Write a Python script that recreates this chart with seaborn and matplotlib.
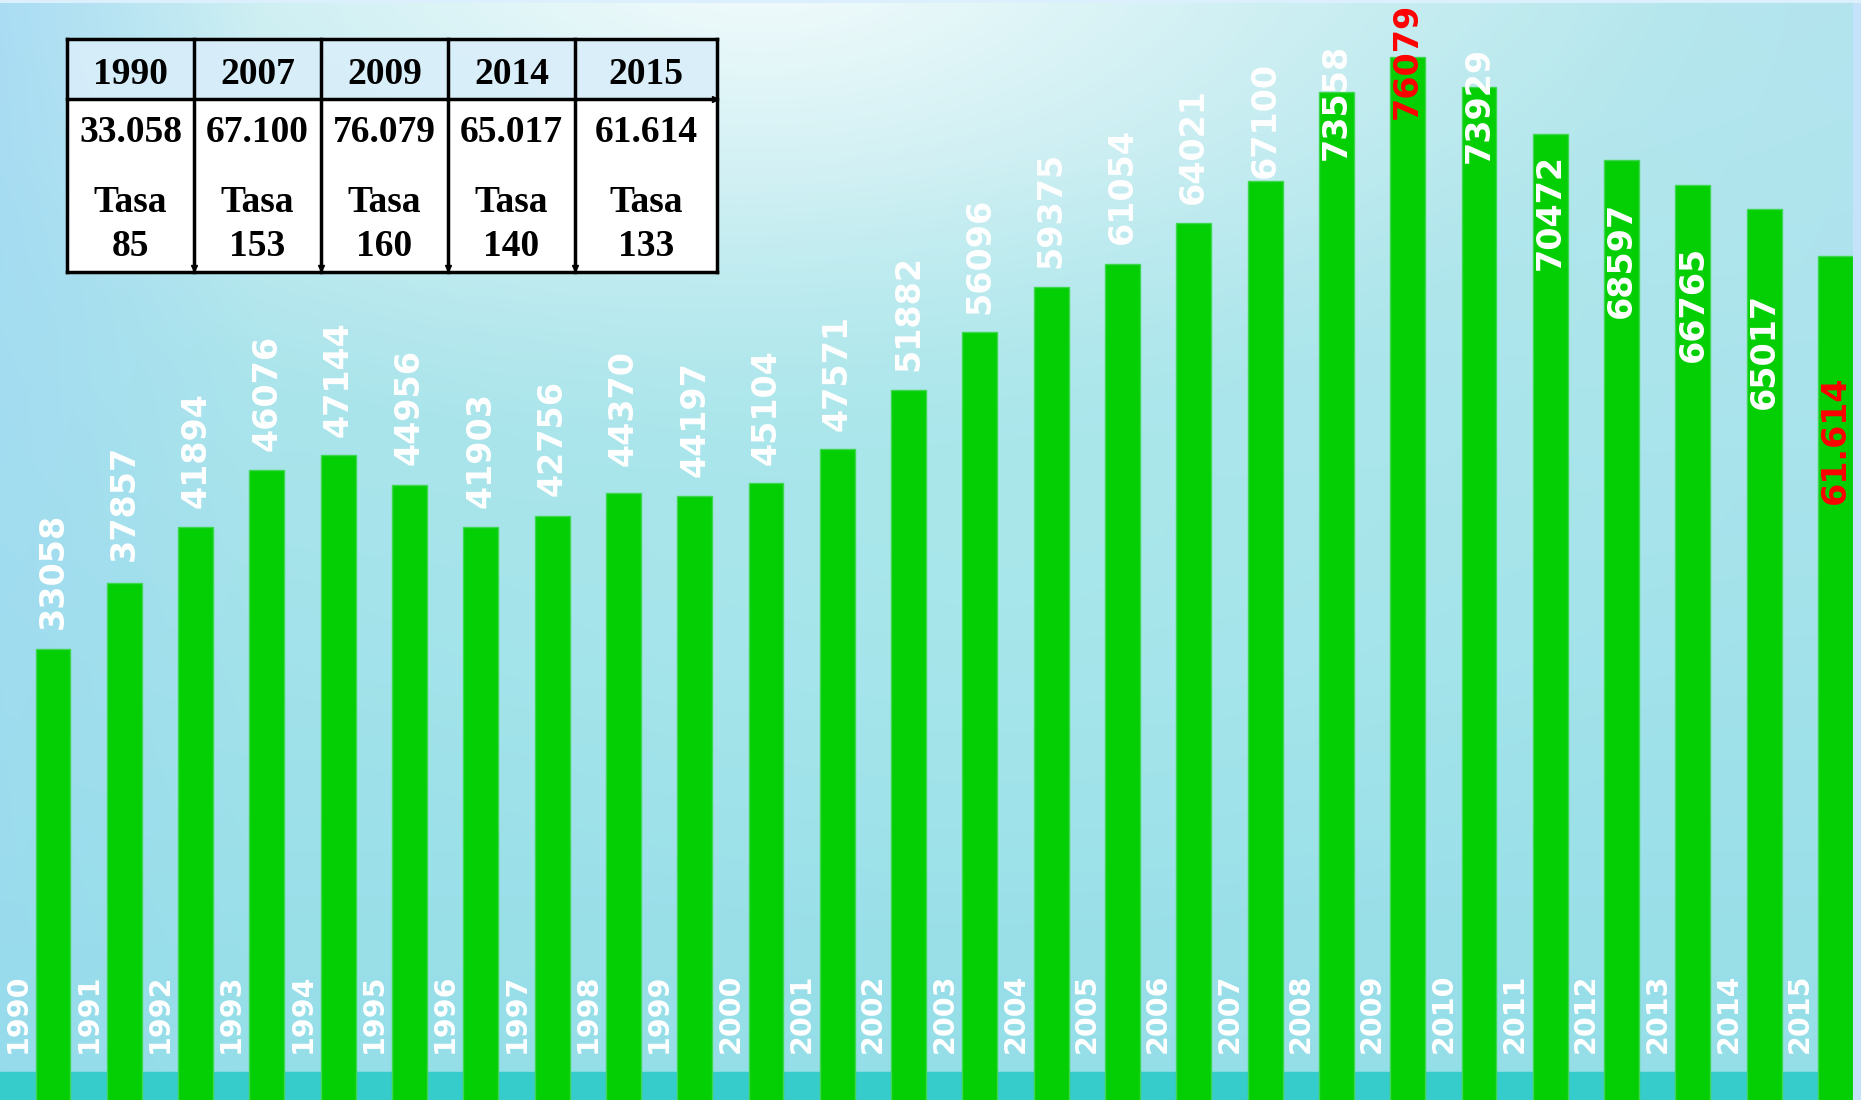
"""
Evolución anual 1990-2015: barras con etiquetas verticales y tabla resumen.
"""

import numpy as np
import seaborn as sns
import matplotlib.pyplot as plt

# datos
anios = [str(a) for a in range(1990, 2016)]
valores = [33058, 37857, 41894, 46076, 47144, 44956, 41903, 42756, 44370, 44197,
           45104, 47571, 51882, 56096, 59375, 61054, 64021, 67100, 73558, 76079,
           73929, 70472, 68597, 66765, 65017, 61614]
etiquetas = [str(v) for v in valores[:-1]] + ['61.614']
destacados = ['2009', '2015']

# altura (en unidades del eje) donde arranca cada etiqueta de valor
pos_etiquetas = [34525, 39437, 43318, 47460, 48492, 46428, 43318, 44183, 46341, 45564,
                 46428, 48928, 53237, 57379, 60736, 62466, 65395, 67291, 68585, 71601,
                 68411, 60570, 57118, 53928, 50476, 43580]

tabla_anios = ['1990', '2007', '2009', '2014', '2015']
tabla_valores = ['33.058', '67.100', '76.079', '65.017', '61.614']
tabla_tasas = ['85', '153', '160', '140', '133']

W, H = 1861, 1100
VERDE = '#04ce04'

fig = plt.figure(figsize=(W / 100, H / 100), dpi=100)

# fondo degradado
yy, xx = np.mgrid[0:H, 0:W].astype(float)
t = (yy / H)[..., None]
top = np.array([0.72, 0.91, 0.93])
bot = np.array([0.58, 0.87, 0.91])
col = top * (1 - t) + bot * t
d = np.sqrt(((xx - 760) / 950) ** 2 + ((yy + 60) / 520) ** 2)
g = (np.clip(1 - d, 0, 1) ** 1.3 * 0.9)[..., None]
col = col * (1 - g) + np.ones(3) * g
d2 = np.sqrt(((xx - 1000) / 750) ** 2 + ((yy - 560) / 400) ** 2)
g2 = (np.clip(1 - d2, 0, 1) * 0.5)[..., None]
col = col * (1 - g2) + np.array([0.67, 0.92, 0.92]) * g2
wl = (np.clip(1 - xx / 260, 0, 1) * 0.55 * (1 - yy / H * 0.6))[..., None]
col = col * (1 - wl) + np.array([0.60, 0.82, 0.97]) * wl
wr = (np.clip((xx - 1550) / 300, 0, 1) * np.clip(1 - yy / 700, 0, 1) * 0.3)[..., None]
col = col * (1 - wr) + np.array([0.66, 0.86, 0.95]) * wr
col[:, 1853:] = [0.77, 0.89, 0.98]
col[:3, :] = [0.86, 0.94, 0.99]

ax_bg = fig.add_axes([0, 0, 1, 1])
ax_bg.imshow(np.clip(col, 0, 1), aspect='auto', extent=(0, W, H, 0))
ax_bg.axis('off')

# barras
ax = fig.add_axes([0, 0, 1853 / W, 1])
ax.set_facecolor('none')
ax.axhspan(290, 2325, color='#36cccc', zorder=0)
sns.barplot(x=anios, y=valores, color=VERDE, saturation=1, width=0.49,
            edgecolor='#3fd650', linewidth=1, ax=ax, zorder=2)
ax.set_xlim(-0.743, 25.245)
ax.set_ylim(290, 80227)
ax.axis('off')

for i, (anio, txt, yl) in enumerate(zip(anios, etiquetas, pos_etiquetas)):
    c = 'red' if anio in destacados else 'white'
    ax.text(i, yl, txt, rotation=90, ha='center', va='bottom', color=c,
            fontsize=24, fontweight='bold', family='DejaVu Sans', zorder=4)
    ax.text(i - 0.5, 3700, anio, rotation=90, ha='center', va='bottom', color='white',
            fontsize=20.5, fontweight='bold', family='DejaVu Sans', zorder=4)

# tabla
ax_t = fig.add_axes([0, 0, 1, 1])
ax_t.set_xlim(0, W)
ax_t.set_ylim(H, 0)
ax_t.axis('off')
bordes = [67, 194, 321, 448, 575, 717]
y_top, y_mid, y_bot = 39, 99, 272
ax_t.fill_between([bordes[0], bordes[-1]], y_top, y_mid, color='#d9eefa', alpha=0.9, zorder=1)
ax_t.fill_between([bordes[0], bordes[-1]], y_mid, y_bot, color='white', zorder=1)
for x in bordes:
    ax_t.plot([x, x], [y_top, y_bot], color='black', lw=2.5, zorder=3)
for y in (y_top, y_mid, y_bot):
    ax_t.plot([bordes[0], bordes[-1]], [y, y], color='black', lw=2.5, zorder=3)
ax_t.plot(bordes[1:-1], [y_bot - 4] * 4, 'v', color='black', ms=5, zorder=4)
ax_t.plot([bordes[-1] - 2], [y_mid], '>', color='black', ms=5, zorder=4)

fuente = dict(family='Liberation Serif', fontweight='bold', fontsize=27,
              ha='center', va='center', color='black', zorder=5)
for j in range(len(tabla_anios)):
    xc = (bordes[j] + bordes[j + 1]) / 2
    ax_t.text(xc, 74, tabla_anios[j], **fuente)
    ax_t.text(xc, 133, tabla_valores[j], **fuente)
    ax_t.text(xc, 202, 'Tasa', **fuente)
    ax_t.text(xc, 246, tabla_tasas[j], **fuente)

fig.savefig('out.png', dpi=100)
